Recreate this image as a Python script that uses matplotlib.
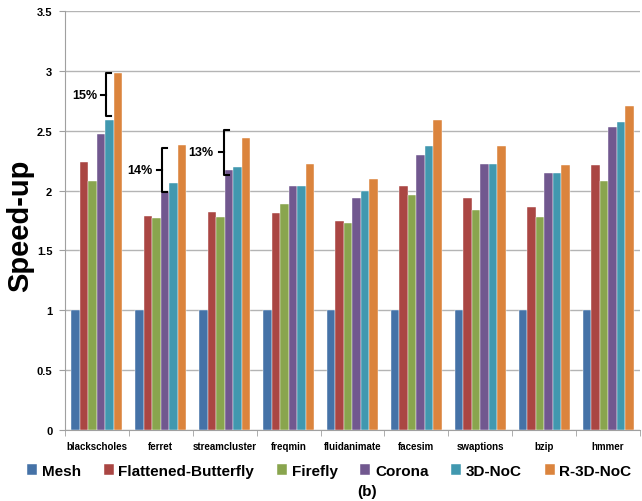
import numpy as np
import matplotlib
matplotlib.use("Agg")
import matplotlib.pyplot as plt

# benchmark names and speed-up per architecture
benchmarks = ['blackscholes', 'ferret', 'streamcluster', 'freqmin', 'fluidanimate',
              'facesim', 'swaptions', 'bzip', 'hmmer']
mesh = [1, 1, 1, 1, 1, 1, 1, 1, 1]
flattened_butterfly = [2.24, 1.79, 1.82, 1.81, 1.75, 2.04, 1.94, 1.86, 2.21]
firefly = [2.08, 1.77, 1.78, 1.89, 1.73, 1.96, 1.84, 1.78, 2.08]
corona = [2.47, 1.99, 2.17, 2.04, 1.94, 2.30, 2.22, 2.15, 2.53]
noc_3d = [2.59, 2.06, 2.20, 2.04, 2.00, 2.37, 2.22, 2.15, 2.57]
r_noc_3d = [2.98, 2.38, 2.44, 2.22, 2.10, 2.59, 2.37, 2.21, 2.71]

series = [('Mesh', mesh, '#4572A7'),
          ('Flattened-Butterfly', flattened_butterfly, '#AA4643'),
          ('Firefly', firefly, '#89A54E'),
          ('Corona', corona, '#71588F'),
          ('3D-NoC', noc_3d, '#4198AF'),
          ('R-3D-NoC', r_noc_3d, '#DB843D')]

# improvement brackets: (benchmark index, x offset, y low, y high, text, text offset)
brackets = [(0, 0.14, 2.62, 2.98, '15%', -0.19),
            (1, 0.02, 1.99, 2.36, '14%', -0.33),
            (2, -0.01, 2.13, 2.51, '13%', -0.37)]

plt.rcParams['font.family'] = ['Liberation Sans', 'DejaVu Sans']

fig = plt.figure(figsize=(6.42, 5.02), dpi=100)
ax = fig.add_axes([0.101, 0.1414, 0.896, 0.8346])

x = np.arange(len(benchmarks))
width = 0.133
for i, (name, vals, color) in enumerate(series):
    ax.bar(x + (i - 2.5) * width, vals, width, label=name, color=color,
           edgecolor='white', linewidth=0.3, zorder=3)

ax.set_xlim(-0.5, len(benchmarks) - 0.5)
ax.set_ylim(0, 3.5)
ax.set_yticks(np.arange(0, 3.51, 0.5))
ax.set_yticklabels(['%g' % v for v in np.arange(0, 3.51, 0.5)], fontsize=8, fontweight='bold')
ax.set_xticks(x)
ax.set_xticklabels(benchmarks, fontsize=7, fontweight='bold')
ax.set_xticks(np.arange(-0.5, len(benchmarks)), minor=True)
ax.tick_params(axis='x', which='major', length=0, pad=8)
ax.tick_params(axis='x', which='minor', length=4, color='#A0A0A0')
ax.tick_params(axis='y', length=4, color='#A0A0A0', pad=5)
ax.grid(axis='y', color='#B4B4B4', linewidth=1, zorder=0)
for side in ['top', 'right']:
    ax.spines[side].set_visible(False)
for side in ['left', 'bottom']:
    ax.spines[side].set_color('#A0A0A0')
ax.set_ylabel('Speed-up', fontsize=21, fontweight='bold', va='center')
ax.yaxis.set_label_coords(-0.077, 0.49)

for idx, dx, lo, hi, txt, tdx in brackets:
    bx = idx + dx
    h = 0.08
    ax.plot([bx + h, bx, bx, bx + h], [hi, hi, lo, lo], color='black', lw=1.5,
            zorder=4, solid_joinstyle='round')
    mid = (lo + hi) / 2
    ax.plot([bx, bx - h], [mid, mid], color='black', lw=1.5, zorder=4)
    ax.text(idx + tdx, mid, txt, fontsize=9, fontweight='bold', ha='center', va='center')

fig.legend(loc='center', bbox_to_anchor=(0.513, 0.06), ncol=6, frameon=False,
           prop={'size': 11, 'weight': 'bold'}, handlelength=0.65, handleheight=0.65,
           handletextpad=0.3, columnspacing=1.5, borderpad=0, borderaxespad=0)
fig.text(0.572, 0.02, '(b)', ha='center', va='center', fontsize=11, fontweight='bold')

fig.savefig('out.png', dpi=100)
